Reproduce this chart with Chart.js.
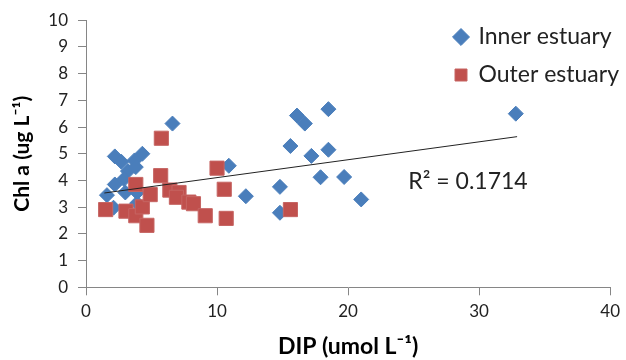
<!DOCTYPE html>
<html>
<head>
<meta charset="utf-8">
<script src="https://cdn.jsdelivr.net/npm/chart.js@4/dist/chart.umd.min.js"></script>
<style>
  html, body { margin: 0; padding: 0; background: #fff; }
</style>
</head>
<body>
<canvas id="chartCanvas" width="626" height="360"></canvas>
<script>
// values
const innerX = [2.2, 2.7, 4.3, 3.7, 3.2, 3.8, 2.9, 2.2, 1.6, 3.0, 3.9, 3.9, 2.1,
                6.6, 10.9, 12.2, 14.8, 14.8, 15.6, 16.1, 16.7, 18.5, 17.2, 18.5,
                17.9, 19.7, 21.0, 32.8];
const innerY = [4.9, 4.7, 5.0, 4.75, 4.35, 4.5, 4.05, 3.85, 3.45, 3.55, 3.55, 3.15, 2.98,
                6.13, 4.55, 3.41, 3.76, 2.79, 5.29, 6.43, 6.13, 6.67, 4.92, 5.15,
                4.12, 4.13, 3.29, 6.5];
const outerX = [1.5, 3.05, 3.8, 4.3, 4.65, 3.8, 4.9, 5.7, 5.75, 6.4, 7.1, 6.9,
                7.85, 8.2, 9.1, 10.0, 10.55, 10.7, 15.6];
const outerY = [2.91, 2.85, 2.68, 3.01, 2.32, 3.85, 3.47, 4.18, 5.58, 3.64, 3.55, 3.37,
                3.19, 3.13, 2.68, 4.46, 3.67, 2.58, 2.91];
const trendX = [1.4, 32.9];
const trendY = [3.53, 5.64];
const seriesNames = ["Inner estuary", "Outer estuary"];
const r2Text = "R² = 0.1714";

Chart.defaults.font.family = "Lato";

function toPoints(xs, ys) {
    return xs.map((x, i) => ({ x: x, y: ys[i] }));
}

// put the legend inside the plot, top right
const legendSpot = {
    id: "legendSpot",
    afterLayout(chart) {
        const lg = chart.legend;
        const w = lg.width, h = lg.height;
        lg.left = 440; lg.top = 10.5;
        lg.right = lg.left + w; lg.bottom = lg.top + h;
    }
};

// R² label next to the trend line
const r2Label = {
    id: "r2Label",
    afterDraw(chart) {
        const ctx = chart.ctx;
        const xs = chart.scales.x, ys = chart.scales.y;
        ctx.save();
        ctx.font = "23px Lato";
        ctx.fillStyle = "#222";
        ctx.textBaseline = "middle";
        ctx.fillText(r2Text, xs.getPixelForValue(24.6), ys.getPixelForValue(3.95));
        ctx.restore();
    }
};

let ctx = document.querySelector("#chartCanvas");

let graph = new Chart(ctx, {
    type: "scatter",
    data: {
        datasets: [
            {
                label: seriesNames[0],
                data: toPoints(innerX, innerY),
                pointStyle: "rectRot",
                pointRadius: 7.5,
                backgroundColor: "#4A7EBB",
                borderColor: "#4A7EBB",
                borderWidth: 1,
                order: 2
            },
            {
                label: seriesNames[1],
                data: toPoints(outerX, outerY),
                pointStyle: "rect",
                pointRadius: 10,
                backgroundColor: "#C0504D",
                borderColor: "#C66563",
                borderWidth: 1,
                order: 1
            },
            {
                label: "trend",
                type: "line",
                data: toPoints(trendX, trendY),
                borderColor: "#222",
                borderWidth: 1,
                pointRadius: 0,
                fill: false,
                order: 0
            }
        ]
    },
    options: {
        responsive: false,
        animation: false,
        events: [],
        layout: {
            padding: { top: 12.7, right: 12, left: 0, bottom: 0 }
        },
        scales: {
            x: {
                type: "linear",
                min: 0,
                max: 40,
                afterFit: (s) => { s.height = 72.7; },
                ticks: { stepSize: 10, color: "#222", font: { size: 17 }, padding: 6 },
                grid: { drawOnChartArea: false, drawTicks: true, tickLength: 8, color: "#868686" },
                border: { color: "#868686" },
                title: {
                    display: true,
                    text: "DIP (umol L⁻¹)",
                    color: "#000",
                    font: { size: 23, weight: "bold" },
                    padding: { top: 0, bottom: 0 }
                }
            },
            y: {
                min: 0,
                max: 10,
                afterFit: (s) => { s.width = 86; },
                ticks: { stepSize: 1, color: "#222", font: { size: 17 }, padding: 10 },
                grid: { drawOnChartArea: false, drawTicks: true, tickLength: 8, color: "#868686" },
                border: { color: "#868686" },
                title: {
                    display: true,
                    text: "Chl a (ug L⁻¹)",
                    color: "#000",
                    font: { size: 21, weight: "bold" },
                    padding: { top: 10, bottom: 0 }
                }
            }
        },
        plugins: {
            tooltip: { enabled: false },
            legend: {
                display: true,
                position: "chartArea",
                align: "start",
                labels: {
                    usePointStyle: true,
                    boxWidth: 12,
                    boxHeight: 12,
                    padding: 15,
                    color: "#222",
                    font: { size: 23 },
                    filter: (item) => item.datasetIndex < 2,
                    sort: (a, b) => a.datasetIndex - b.datasetIndex
                }
            }
        }
    },
    plugins: [legendSpot, r2Label]
});
</script>
</body>
</html>
